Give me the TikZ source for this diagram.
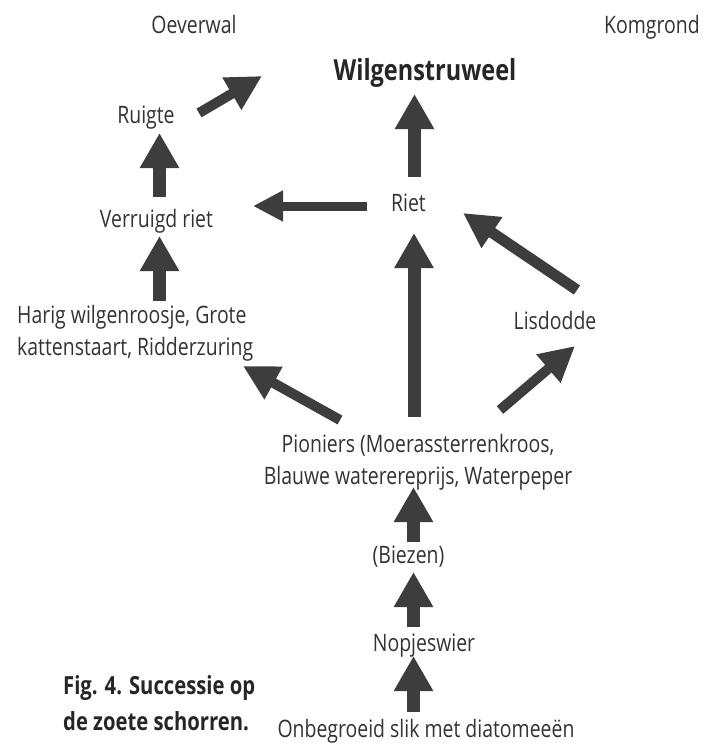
\documentclass[tikz,border=0pt]{standalone}
\usepackage{fontspec}
\setmainfont{Open Sans}[FakeStretch=0.81]
\usetikzlibrary{arrows.meta}
\definecolor{ink}{HTML}{333333}
\definecolor{arr}{HTML}{3D3D3D}
\begin{document}
\begin{tikzpicture}[x=1pt,y=-1pt,
  lbl/.style={inner sep=0pt, anchor=base, text=ink, font=\fontsize{24}{30}\selectfont},
  lblw/.style={lbl, anchor=base west},
  ttl/.style={inner sep=0pt, anchor=base, text=black!85, font=\fontsize{29}{34}\selectfont\bfseries},
  capt/.style={inner sep=0pt, anchor=base west, text=black!85, font=\fontsize{25}{30}\selectfont\bfseries},
  fat/.style={arr, line width=13pt, -{Triangle[width=37pt,length=35pt]}},
  slant/.style={arr, line width=10pt, -{Triangle[width=35pt,length=35pt]}},
  thin/.style={arr, line width=9pt, -{Triangle[width=29pt,length=30pt]}}]
\useasboundingbox (0,0) rectangle (705,744);
\fill[white] (0,0) rectangle (705,744);
% labels
\node[lbl] (oever) at (194,33) {Oeverwal};
\node[lbl] (kom) at (652,33) {Komgrond};
\node[ttl] (wilgen) at (425,80) {Wilgenstruweel};
\node[lbl] (ruigte) at (146,123) {Ruigte};
\node[lbl] (verruigd) at (156.5,227) {Verruigd riet};
\node[lbl] (riet) at (408.5,211) {Riet};
\node[lblw] (harig1) at (17,323) {Harig wilgenroosje, Grote};
\node[lblw] (harig2) at (17,355) {kattenstaart, Ridderzuring};
\node[lbl] (lisdodde) at (555,329) {Lisdodde};
\node[lbl] (pion1) at (418,452) {Pioniers (Moerassterrenkroos,};
\node[lbl] (pion2) at (418,484) {Blauwe waterereprijs, Waterpeper};
\node[lbl] (biezen) at (408.5,563) {(Biezen)};
\node[lbl] (nopjes) at (424,651) {Nopjeswier};
\node[lbl] (onbeg) at (426,737) {Onbegroeid slik met diatomeeën};
\node[capt] (cap1) at (63,694) {Fig. 4. Successie op};
\node[capt] (cap2) at (63,730) {de zoete schorren.};
% arrows
\draw[fat] ([shift={(3,-30)}]verruigd.base) -- ([shift={(13.5,10)}]ruigte.base);
\draw[fat] ([shift={(142.5,-22)}]harig1.base west) -- ([shift={(3,9)}]verruigd.base);
\draw[fat] ([shift={(6,-34)}]riet.base) -- ([shift={(-10.5,14)}]wilgen.base);
\draw[fat] ([shift={(-4,-35)}]pion1.base) -- ([shift={(5.5,22)}]riet.base);
\draw[fat] ([shift={(5,-21)}]biezen.base) -- ([shift={(-4.5,3)}]pion2.base);
\draw[fat] ([shift={(-10.5,-24)}]nopjes.base) -- ([shift={(5,9)}]biezen.base);
\draw[fat] ([shift={(-12.5,-25)}]onbeg.base) -- ([shift={(-10.5,5)}]nopjes.base);
\draw[thin] ([shift={(-41.5,-5)}]riet.base) -- ([shift={(96.5,-21)}]verruigd.base);
\draw[slant] ([shift={(53,-10)}]ruigte.base) -- ([shift={(-163,-4)}]wilgen.base);
\draw[slant] ([shift={(-78,-32)}]pion1.base) -- ([shift={(226,11)}]harig2.base west);
\draw[slant] ([shift={(82,-42)}]pion1.base) -- ([shift={(20,17)}]lisdodde.base);
\draw[slant, line width=11pt] ([shift={(22,-39)}]lisdodde.base) -- ([shift={(54.5,2)}]riet.base);
\end{tikzpicture}
\end{document}
